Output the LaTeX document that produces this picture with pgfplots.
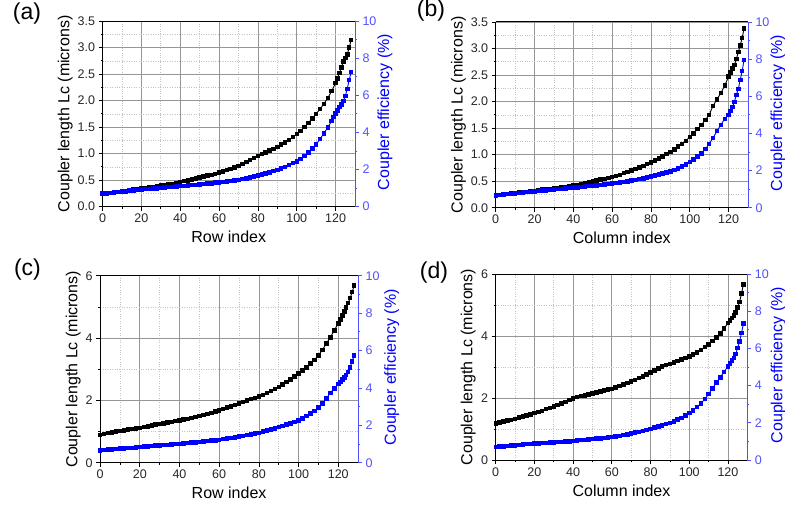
\documentclass[border=0pt]{standalone}
\usepackage{fontspec}
\setmainfont{Liberation Sans}
\usepackage{pgfplots}
\pgfplotsset{compat=1.18}
\usepackage{pgfplotstable}

% (a) row, black = coupler length, blue = efficiency
\pgfplotstableread{
x y
0 0.24
2 0.25
4 0.26
6 0.27
8 0.28
10 0.29
12 0.30
14 0.31
16 0.32
18 0.33
20 0.34
22 0.35
24 0.36
26 0.37
28 0.39
30 0.40
32 0.41
34 0.42
36 0.43
38 0.45
40 0.46
42 0.48
44 0.49
46 0.51
48 0.53
50 0.55
52 0.57
54 0.59
56 0.60
58 0.62
60 0.64
62 0.66
64 0.69
66 0.71
68 0.74
70 0.77
72 0.80
74 0.84
76 0.88
78 0.92
80 0.96
82 0.99
84 1.02
86 1.06
88 1.09
90 1.13
92 1.17
94 1.21
96 1.26
98 1.31
100 1.37
102 1.43
104 1.50
106 1.58
108 1.66
110 1.75
112 1.84
114 1.94
116 2.05
118 2.18
120 2.33
121 2.42
122 2.52
123 2.63
124 2.74
125 2.80
126 2.87
127 3.00
128 3.14
}\dataAL
\pgfplotstableread{
x y
0 0.70
2 0.72
4 0.74
6 0.77
8 0.79
10 0.81
12 0.83
14 0.86
16 0.88
18 0.90
20 0.92
22 0.94
24 0.95
26 0.97
28 0.99
30 1.01
32 1.03
34 1.05
36 1.06
38 1.08
40 1.10
42 1.12
44 1.14
46 1.16
48 1.18
50 1.20
52 1.22
54 1.24
56 1.26
58 1.29
60 1.31
62 1.34
64 1.36
66 1.39
68 1.42
70 1.45
72 1.49
74 1.53
76 1.57
78 1.62
80 1.67
82 1.72
84 1.78
86 1.84
88 1.91
90 1.98
92 2.06
94 2.15
96 2.24
98 2.34
100 2.44
102 2.58
104 2.74
106 2.92
108 3.13
110 3.36
112 3.64
114 3.95
116 4.27
118 4.62
119 4.84
120 5.02
121 5.18
122 5.36
123 5.52
124 5.70
125 5.96
126 6.35
127 6.82
128 7.25
}\dataAR

% (b) column
\pgfplotstableread{
x y
0 0.23
2 0.24
4 0.25
6 0.26
8 0.27
10 0.28
12 0.29
14 0.30
16 0.30
18 0.31
20 0.32
22 0.33
24 0.34
26 0.34
28 0.35
30 0.36
32 0.37
34 0.38
36 0.39
38 0.41
40 0.42
42 0.43
44 0.45
46 0.46
48 0.48
50 0.49
52 0.51
54 0.53
56 0.54
58 0.56
60 0.58
62 0.60
64 0.62
66 0.65
68 0.67
70 0.70
72 0.73
74 0.76
76 0.79
78 0.82
80 0.85
82 0.89
84 0.93
86 0.97
88 1.01
90 1.05
92 1.10
94 1.15
96 1.20
98 1.26
100 1.33
102 1.40
104 1.48
106 1.56
108 1.65
110 1.75
112 1.92
114 2.04
116 2.16
118 2.30
120 2.47
121 2.55
122 2.62
123 2.69
124 2.80
125 2.93
126 3.06
127 3.20
128 3.38
}\dataBL
\pgfplotstableread{
x y
0 0.67
2 0.69
4 0.71
6 0.73
8 0.75
10 0.77
12 0.79
14 0.82
16 0.84
18 0.86
20 0.88
22 0.90
24 0.92
26 0.94
28 0.96
30 0.98
32 1.00
34 1.02
36 1.04
38 1.06
40 1.08
42 1.10
44 1.12
46 1.14
48 1.16
50 1.18
52 1.20
54 1.22
56 1.25
58 1.27
60 1.30
62 1.33
64 1.36
66 1.39
68 1.42
70 1.46
72 1.50
74 1.54
76 1.58
78 1.63
80 1.68
82 1.73
84 1.79
86 1.85
88 1.90
90 1.96
92 2.04
94 2.12
96 2.21
98 2.32
100 2.45
102 2.59
104 2.75
106 2.93
108 3.15
110 3.43
112 3.76
114 4.12
116 4.46
118 4.78
120 5.00
121 5.20
122 5.42
123 5.70
124 6.07
125 6.40
126 6.88
127 7.37
128 7.96
}\dataBR

% (c) row
\pgfplotstableread{
x y
0 0.89
2 0.92
4 0.95
6 0.97
8 1.00
10 1.02
12 1.04
14 1.06
16 1.08
18 1.10
20 1.12
22 1.14
24 1.17
26 1.19
28 1.22
30 1.24
32 1.26
34 1.29
36 1.31
38 1.34
40 1.36
42 1.39
44 1.41
46 1.44
48 1.47
50 1.50
52 1.53
54 1.57
56 1.60
58 1.64
60 1.68
62 1.72
64 1.77
66 1.81
68 1.86
70 1.90
72 1.95
74 1.99
76 2.04
78 2.08
80 2.13
82 2.18
84 2.24
86 2.30
88 2.36
90 2.43
92 2.51
94 2.59
96 2.67
98 2.76
100 2.86
102 2.96
104 3.06
106 3.18
108 3.30
110 3.44
112 3.62
114 3.82
116 4.02
118 4.25
120 4.47
121 4.60
122 4.72
123 4.85
124 4.98
125 5.12
126 5.28
127 5.48
128 5.68
}\dataCL
\pgfplotstableread{
x y
0 0.66
2 0.68
4 0.70
6 0.71
8 0.73
10 0.75
12 0.77
14 0.79
16 0.80
18 0.82
20 0.84
22 0.86
24 0.87
26 0.89
28 0.91
30 0.92
32 0.94
34 0.96
36 0.97
38 0.99
40 1.01
42 1.03
44 1.05
46 1.07
48 1.09
50 1.11
52 1.13
54 1.16
56 1.18
58 1.20
60 1.23
62 1.26
64 1.29
66 1.33
68 1.36
70 1.40
72 1.44
74 1.48
76 1.52
78 1.56
80 1.60
82 1.66
84 1.72
86 1.78
88 1.84
90 1.90
92 1.97
94 2.04
96 2.11
98 2.18
100 2.26
102 2.37
104 2.49
106 2.63
108 2.78
110 2.95
112 3.18
114 3.44
116 3.73
118 3.98
120 4.20
121 4.32
122 4.44
123 4.56
124 4.68
125 4.84
126 5.10
127 5.42
128 5.73
}\dataCR

% (d) column
\pgfplotstableread{
x y
0 1.18
2 1.21
4 1.24
6 1.27
8 1.30
10 1.33
12 1.37
14 1.40
16 1.44
18 1.47
20 1.51
22 1.55
24 1.59
26 1.64
28 1.68
30 1.73
32 1.78
34 1.83
36 1.88
38 1.93
40 1.98
42 2.03
44 2.07
46 2.09
48 2.12
50 2.15
52 2.18
54 2.21
56 2.24
58 2.27
60 2.30
62 2.34
64 2.39
66 2.43
68 2.48
70 2.53
72 2.59
74 2.65
76 2.70
78 2.76
80 2.82
82 2.89
84 2.96
86 3.02
88 3.06
90 3.10
92 3.14
94 3.19
96 3.24
98 3.29
100 3.34
102 3.40
104 3.47
106 3.55
108 3.64
110 3.73
112 3.84
114 3.96
116 4.09
118 4.24
120 4.42
121 4.50
122 4.58
123 4.66
124 4.76
125 4.92
126 5.10
127 5.37
128 5.67
}\dataDL
\pgfplotstableread{
x y
0 0.70
2 0.72
4 0.74
6 0.76
8 0.78
10 0.79
12 0.81
14 0.83
16 0.85
18 0.86
20 0.88
22 0.89
24 0.91
26 0.92
28 0.94
30 0.95
32 0.97
34 0.98
36 1.00
38 1.01
40 1.03
42 1.05
44 1.07
46 1.09
48 1.11
50 1.13
52 1.15
54 1.17
56 1.19
58 1.21
60 1.24
62 1.27
64 1.30
66 1.34
68 1.38
70 1.42
72 1.47
74 1.52
76 1.57
78 1.62
80 1.68
82 1.74
84 1.80
86 1.86
88 1.93
90 2.00
92 2.08
94 2.17
96 2.27
98 2.39
100 2.52
102 2.67
104 2.84
106 3.04
108 3.27
110 3.55
112 3.85
114 4.16
116 4.45
118 4.74
120 5.04
121 5.20
122 5.35
123 5.50
124 5.70
125 6.02
126 6.38
127 6.83
128 7.33
}\dataDR

\definecolor{effblue}{RGB}{0,0,255}
\definecolor{axblue}{RGB}{80,80,255}
\definecolor{majgrid}{RGB}{150,150,150}
\definecolor{mingrid}{RGB}{195,195,195}

\pgfplotsset{
  base/.style={
    scale only axis, anchor=south west,
    xmin=0, xmax=130,
    xtick={0,20,...,120}, minor x tick num=1,
    tick align=outside,
    major tick length=4pt, minor tick length=2pt,
    /pgf/number format/assume math mode=true,
    tick label style={font=\fontsize{12.5}{14}\selectfont},
    label style={font=\fontsize{16}{18}\selectfont},
  },
  leftax/.style={
    base,
    axis x line*=box, axis y line*=left, xtick pos=bottom,
    axis line style={black, line width=0.8pt},
    tick style={black, line width=0.7pt},
    ticklabel style={black!85},
    grid=both,
    major grid style={solid, majgrid, line width=0.7pt},
    minor grid style={mingrid, dotted, line width=0.6pt},
    ymin=0,
  },
  rightax/.style={
    base,
    axis x line=none, axis y line*=right,
    ymin=0, ymax=10, ytick={0,2,...,10}, minor y tick num=1,
    y axis line style={axblue, line width=0.8pt},
    tick style={axblue, line width=0.7pt},
    yticklabel style={axblue},
    ylabel={Coupler efficiency (\%)},
    ylabel style={effblue},
  },
  lenA/.style={
    ymax=3.5, ytick={0,0.5,...,3.5}, minor y tick num=1,
    yticklabel style={/pgf/number format/.cd, fixed, fixed zerofill, precision=1},
  },
  lenC/.style={
    ymax=6, ytick={0,2,4,6}, minor y tick num=1,
  },
  blk/.style={black, line width=0.9pt, mark=square*, mark size=1.75pt, mark options={solid}},
  blu/.style={effblue, line width=0.9pt, mark=square*, mark size=1.75pt, mark options={solid}},
}

\begin{document}
\begin{tikzpicture}
\useasboundingbox (0,0) rectangle (785pt,507pt);

% ---------- (a)
\begin{axis}[leftax, lenA, at={(102.5pt,300.4pt)}, width=252.5pt, height=185.5pt,
  xlabel={Row index}, ylabel={Coupler length Lc (microns)},
  xlabel style={at={(axis description cs:0.5,-0.162)}, anchor=center},
  ylabel style={at={(axis description cs:-0.148,0.5)}, anchor=center}]
\addplot[blk] table {\dataAL};
\end{axis}
\begin{axis}[rightax, at={(102.5pt,300.4pt)}, width=252.5pt, height=185.5pt,
  ylabel style={at={(axis description cs:1.119,0.51)}, anchor=center}]
\addplot[blu] table {\dataAR};
\end{axis}

% ---------- (b)
\begin{axis}[leftax, lenA, at={(495.7pt,299.3pt)}, width=252.3pt, height=185.8pt,
  xlabel={Column index}, ylabel={Coupler length Lc (microns)},
  xlabel style={at={(axis description cs:0.5,-0.16)}, anchor=center},
  ylabel style={at={(axis description cs:-0.148,0.5)}, anchor=center}]
\addplot[blk] table {\dataBL};
\end{axis}
\begin{axis}[rightax, at={(495.7pt,299.3pt)}, width=252.3pt, height=185.8pt,
  ylabel style={at={(axis description cs:1.119,0.51)}, anchor=center}]
\addplot[blu] table {\dataBR};
\end{axis}

% ---------- (c)
\begin{axis}[leftax, lenC, at={(100.1pt,44.3pt)}, width=258pt, height=187pt,
  xlabel={Row index}, ylabel={Coupler length Lc (microns)},
  xlabel style={at={(axis description cs:0.5,-0.162)}, anchor=center},
  ylabel style={at={(axis description cs:-0.104,0.5)}, anchor=center}]
\addplot[blk] table {\dataCL};
\end{axis}
\begin{axis}[rightax, at={(100.1pt,44.3pt)}, width=258pt, height=187pt,
  ylabel style={at={(axis description cs:1.13,0.51)}, anchor=center}]
\addplot[blu] table {\dataCR};
\end{axis}

% ---------- (d)
\begin{axis}[leftax, lenC, at={(495.7pt,47pt)}, width=251.6pt, height=186pt,
  xlabel={Column index}, ylabel={Coupler length Lc (microns)},
  xlabel style={at={(axis description cs:0.5,-0.166)}, anchor=center},
  ylabel style={at={(axis description cs:-0.109,0.5)}, anchor=center}]
\addplot[blk] table {\dataDL};
\end{axis}
\begin{axis}[rightax, at={(495.7pt,47pt)}, width=251.6pt, height=186pt,
  ylabel style={at={(axis description cs:1.123,0.51)}, anchor=center}]
\addplot[blu] table {\dataDR};
\end{axis}

% panel letters
\node[font=\fontsize{23}{26}\selectfont] at (27pt,493pt) {(a)};
\node[font=\fontsize{23}{26}\selectfont] at (431pt,496pt) {(b)};
\node[font=\fontsize{23}{26}\selectfont] at (27.5pt,237pt) {(c)};
\node[font=\fontsize{23}{26}\selectfont] at (434pt,234pt) {(d)};
\end{tikzpicture}
\end{document}
